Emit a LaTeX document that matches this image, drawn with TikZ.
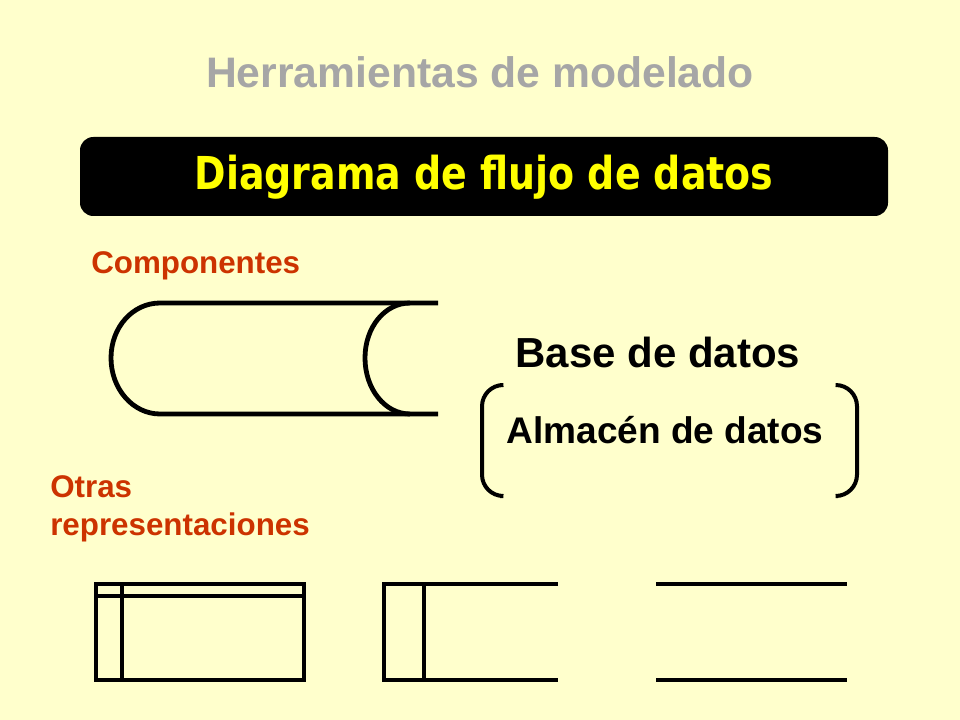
\documentclass[tikz,border=0pt]{standalone}
\usepackage{fontspec}
\setmainfont{Liberation Sans}
\newfontfamily\bannerfont[FakeStretch=0.93]{DejaVu Sans Condensed}
\usetikzlibrary{positioning}

\definecolor{paper}{RGB}{255,255,204}
\definecolor{headgray}{RGB}{166,166,166}
\definecolor{rust}{RGB}{204,51,0}
\definecolor{banneryellow}{RGB}{255,255,0}

\begin{document}
\begin{tikzpicture}[
    x=0.75pt, y=-0.75pt,
    shape line/.style={
        draw=black,
        line width=3.6pt
    },
    brace line/.style={
        draw=black,
        line width=3pt,
        rounded corners=16pt
    },
    heading/.style={
        font=\bfseries\fontsize{32}{38}\selectfont,
        text=headgray
    },
    tag/.style={
        font=\bfseries\fontsize{23.5}{28.5}\selectfont,
        text=rust,
        align=left,
        anchor=west,
        inner sep=0pt
    },
    caption/.style={
        font=\bfseries\fontsize{#1}{#1}\selectfont,
        inner sep=0pt
    }
]

% Background
\fill[paper] (0,0) rectangle (960,720);
\useasboundingbox (0,0) rectangle (960,720);

% Title
\node[heading] (title) at (480,72) {Herramientas de modelado};

% Banner
\fill[black, rounded corners=10pt] (80,137) rectangle (888,216);
\node[font=\bannerfont\bfseries\fontsize{34}{40}\selectfont, text=banneryellow]
    (banner) at (484,177) {Diagrama de flujo de datos};

% Components
\node[tag] (comp) at (91,266) {Componentes};

% Open cylinder
\draw[shape line] (438,303) -- (160,303)
    .. controls (133,303) and (111,327) .. (111,358)
    .. controls (111,389) and (133,414) .. (160,414) -- (438,414);
\draw[shape line] (410,303)
    .. controls (385,303) and (365,327) .. (365,358)
    .. controls (365,389) and (385,414) .. (410,414);

% Labels
\node[caption=31.5] (base) at (658,352) {Base de datos};
\node[caption=27.8] (store) at (665,430) {Almacén de datos};

% Brackets
\draw[brace line] (500,385) -- (482,385) -- (482,496) -- (500,496);
\draw[brace line] (838,385) -- (857,385) -- (857,496) -- (838,496);

% Other forms
\node[tag] (other) at (50,509) {Otras\\representaciones};

\draw[shape line] (96,584) rectangle (304,680);
\draw[shape line] (96,596) -- (304,596);
\draw[shape line] (122,584) -- (122,680);

\draw[shape line] (558,584) -- (384,584) -- (384,680) -- (558,680);
\draw[shape line] (424,584) -- (424,680);

\draw[shape line] (656,584) -- (847,584);
\draw[shape line] (656,680) -- (847,680);

\end{tikzpicture}
\end{document}
